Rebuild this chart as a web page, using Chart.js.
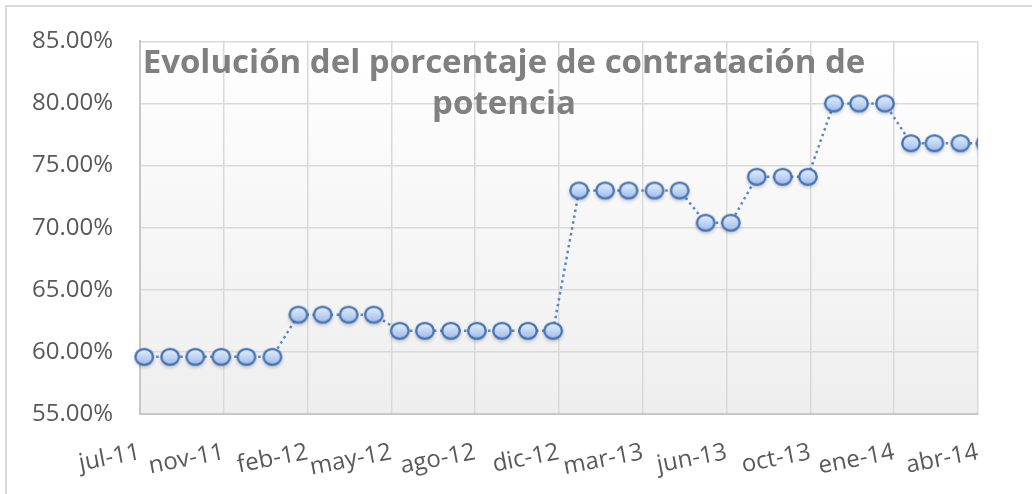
<!DOCTYPE html>
<html>
<head>
<meta charset="utf-8">
<script src="https://cdn.jsdelivr.net/npm/chart.js@4.4.1/dist/chart.umd.min.js"></script>
<style>
  html, body { margin: 0; padding: 0; background: #fff; }
  canvas { display: block; }
</style>
</head>
<body>
<canvas id="chart" width="1032" height="494"></canvas>
<script>
// monthly data points (first of each month)
const months = [
  '2011-08', '2011-09', '2011-10', '2011-11', '2011-12', '2012-01',
  '2012-02', '2012-03', '2012-04', '2012-05',
  '2012-06', '2012-07', '2012-08', '2012-09', '2012-10', '2012-11', '2012-12',
  '2013-01', '2013-02', '2013-03', '2013-04', '2013-05',
  '2013-06', '2013-07',
  '2013-08', '2013-09', '2013-10',
  '2013-11', '2013-12', '2014-01',
  '2014-02', '2014-03', '2014-04',
  '2014-05'
]
const values = [
  0.596, 0.596, 0.596, 0.596, 0.596, 0.596,
  0.630, 0.630, 0.630, 0.630,
  0.617, 0.617, 0.617, 0.617, 0.617, 0.617, 0.617,
  0.730, 0.730, 0.730, 0.730, 0.730,
  0.704, 0.704,
  0.741, 0.741, 0.741,
  0.800, 0.800, 0.800,
  0.768, 0.768, 0.768,
  0.768
]
const monthNames = ['ene', 'feb', 'mar', 'abr', 'may', 'jun', 'jul', 'ago', 'sep', 'oct', 'nov', 'dic']
const yTicks = { min: 0.55, max: 0.85, step: 0.05 }

// date axis: base unit days, major unit 100 days
const axisStart = Date.UTC(2011, 6, 27)
const axisDays = 1000
const DAY = 86400000

function dayOffset(ym) {
  let parts = ym.split('-')
  return (Date.UTC(+parts[0], +parts[1] - 1, 1) - axisStart) / DAY
}

function dayLabel(v) {
  let d = new Date(axisStart + v * DAY)
  return monthNames[d.getUTCMonth()] + '-' + String(d.getUTCFullYear()).slice(2)
}

let points = months.map(function (m, i) {
  return { x: dayOffset(m), y: values[i] }
})

// marker: light blue ellipse with a dark blue rim and a soft shadow
function makeMarker() {
  let c = document.createElement('canvas')
  c.width = 32
  c.height = 32
  let g = c.getContext('2d')
  g.save()
  g.shadowColor = 'rgba(0,0,0,0.35)'
  g.shadowBlur = 4
  g.shadowOffsetY = 2
  let grad = g.createLinearGradient(0, 8, 0, 24)
  grad.addColorStop(0, '#e6effd')
  grad.addColorStop(1, '#9dbbec')
  g.beginPath()
  g.ellipse(16, 16, 8.8, 7.8, 0, 0, Math.PI * 2)
  g.fillStyle = grad
  g.fill()
  g.restore()
  g.beginPath()
  g.ellipse(16, 16, 8.8, 7.8, 0, 0, Math.PI * 2)
  g.lineWidth = 2.3
  g.strokeStyle = '#4372b3'
  g.stroke()
  return c
}

const backgroundPlugin = {
  id: 'background',
  beforeDraw: function (chart) {
    let ctx = chart.ctx
    let a = chart.chartArea
    ctx.save()
    ctx.fillStyle = '#ffffff'
    ctx.fillRect(0, 0, chart.width, chart.height)
    // outer frame (only top and left edges are visible)
    ctx.strokeStyle = '#d9d9d9'
    ctx.lineWidth = 2
    ctx.beginPath()
    ctx.moveTo(6, chart.height)
    ctx.lineTo(6, 6)
    ctx.lineTo(chart.width, 6)
    ctx.stroke()
    let grad = ctx.createLinearGradient(0, a.top, 0, a.bottom)
    grad.addColorStop(0, '#ffffff')
    grad.addColorStop(1, '#eeeeee')
    ctx.fillStyle = grad
    ctx.fillRect(a.left, a.top, a.right - a.left, a.bottom - a.top)
    ctx.restore()
  },
}

const titleLines = ['Evolución del porcentaje de contratación de', 'potencia']

const titlePlugin = {
  id: 'overlayTitle',
  afterDraw: function (chart) {
    let ctx = chart.ctx
    ctx.save()
    ctx.font = 'bold 33px "Open Sans"'
    ctx.fillStyle = '#808080'
    ctx.textAlign = 'center'
    ctx.textBaseline = 'alphabetic'
    ctx.fillText(titleLines[0], 504, 73)
    ctx.fillText(titleLines[1], 504, 114)
    ctx.restore()
  },
}

const tickFont = { family: '"Open Sans"', size: 24 }

new Chart(document.getElementById('chart').getContext('2d'), {
  type: 'line',
  data: {
    datasets: [{
      data: points,
      borderColor: '#5a87c6',
      borderWidth: 2.5,
      borderDash: [2.5, 3.5],
      fill: false,
      tension: 0,
      pointStyle: makeMarker(),
      pointRadius: 9,
      pointHoverRadius: 9,
      clip: { left: 20, top: 20, right: 0, bottom: 20 },
    }],
  },
  options: {
    responsive: false,
    animation: false,
    events: [],
    layout: {
      padding: { left: 0, top: 38, right: 54, bottom: 0 },
    },
    plugins: {
      legend: { display: false },
      tooltip: { enabled: false },
    },
    scales: {
      x: {
        type: 'linear',
        min: 0,
        max: axisDays,
        afterFit: function (scale) { scale.height = 80 },
        grid: { color: '#d9d9d9', lineWidth: 1.5, drawTicks: false },
        border: { color: '#c8c8c8', width: 2 },
        ticks: {
          stepSize: 100,
          autoSkip: false,
          minRotation: 11,
          maxRotation: 11,
          padding: 24,
          color: '#595959',
          font: tickFont,
          callback: function (v) { return dayLabel(v) },
        },
      },
      y: {
        min: yTicks.min,
        max: yTicks.max,
        afterFit: function (scale) { scale.width = 140 },
        grid: { color: '#d9d9d9', lineWidth: 1.5, drawTicks: false },
        border: { color: '#c8c8c8', width: 2 },
        ticks: {
          stepSize: yTicks.step,
          padding: 27,
          color: '#595959',
          font: tickFont,
          callback: function (v) { return (v * 100).toFixed(2) + '%' },
        },
      },
    },
  },
  plugins: [backgroundPlugin, titlePlugin],
})
</script>
</body>
</html>
